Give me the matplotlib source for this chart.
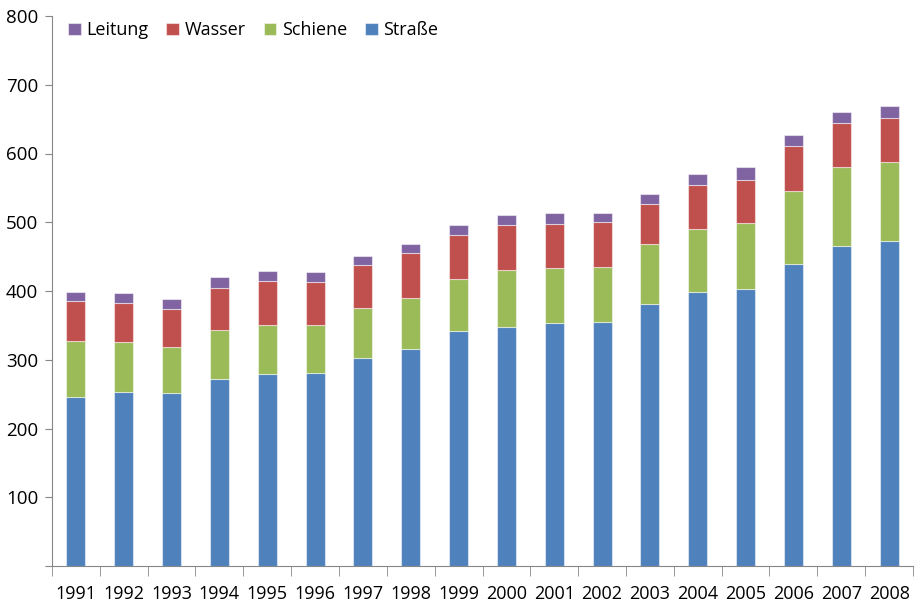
import numpy as np
import matplotlib.pyplot as plt

plt.rcParams['font.family'] = ['Open Sans', 'DejaVu Sans']

jahre = ['1991', '1992', '1993', '1994', '1995', '1996', '1997', '1998', '1999',
         '2000', '2001', '2002', '2003', '2004', '2005', '2006', '2007', '2008']
strasse = [246, 253, 252, 272, 280, 281, 302, 316, 342, 347, 353, 355, 381, 399, 403, 440, 466, 473]
schiene = [82, 73, 67, 71, 70, 70, 74, 74, 76, 83, 81, 80, 87, 91, 96, 106, 115, 115]
wasser = [57, 57, 55, 62, 64, 62, 62, 65, 64, 66, 64, 65, 58, 64, 63, 65, 64, 64]
leitung = [13, 14, 15, 15, 15, 14, 13, 14, 14, 15, 16, 14, 15, 16, 18, 16, 16, 17]

farben = {'Straße': '#4F81BD', 'Schiene': '#9BBB59', 'Wasser': '#C0504D', 'Leitung': '#8064A2'}

fig = plt.figure(figsize=(9.15, 6.07), dpi=100)
ax = fig.add_axes([52 / 915, 41 / 607, 861 / 915, 550 / 607])

x = np.arange(len(jahre))
breite = 0.4
unten = np.zeros(len(jahre))
handles = {}
for name, werte in [('Straße', strasse), ('Schiene', schiene), ('Wasser', wasser), ('Leitung', leitung)]:
    b = ax.bar(x, werte, breite, bottom=unten, color=farben[name],
               edgecolor=(1, 1, 1, 0.5), linewidth=0.8, label=name)
    handles[name] = b
    unten += np.array(werte)

ax.set_xlim(-0.5, len(jahre) - 0.5)
ax.set_ylim(0, 800)
ax.set_yticks(range(0, 801, 100))
ax.set_yticklabels(['', '100', '200', '300', '400', '500', '600', '700', '800'])
ax.set_xticks(x)
ax.set_xticklabels(jahre)
ax.set_xticks(np.arange(-0.5, len(jahre), 1), minor=True)

ax.spines['top'].set_visible(False)
ax.spines['right'].set_visible(False)
ax.spines['left'].set_color('#868686')
ax.spines['bottom'].set_color('#868686')
ax.tick_params(axis='y', direction='out', length=5, color='#868686', labelsize=13.5, pad=5)
ax.tick_params(axis='x', which='major', length=0, labelsize=13, pad=14)
ax.tick_params(axis='x', which='minor', direction='out', length=7, color='#868686')

reihenfolge = ['Leitung', 'Wasser', 'Schiene', 'Straße']
ax.legend([handles[n] for n in reihenfolge], reihenfolge, loc='upper left',
          bbox_to_anchor=(0.0, 1.02), ncol=4, frameon=False, fontsize=13,
          handlelength=0.7, handleheight=0.7, handletextpad=0.3, columnspacing=1.0)

plt.savefig('out.png', dpi=100)
